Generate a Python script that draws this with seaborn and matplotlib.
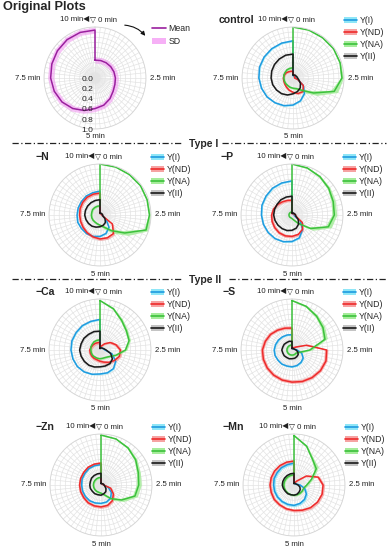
import numpy as np
import matplotlib
matplotlib.use("Agg")
import matplotlib.pyplot as plt
import seaborn as sns
from matplotlib.lines import Line2D
from matplotlib.patches import Patch, FancyArrowPatch

# time axis (minutes), 0 at top, clockwise
t_min = [0.0, 0.5, 1.0, 1.5, 2.0, 2.5, 3.0, 3.5, 4.0, 4.5, 5.0,
         5.5, 6.0, 6.5, 7.0, 7.5, 8.0, 8.5, 9.0, 9.5, 10.0]

orig_mean = [0.35, 0.36, 0.37, 0.38, 0.39, 0.40, 0.41, 0.44, 0.50, 0.56, 0.60,
             0.67, 0.74, 0.80, 0.84, 0.87, 0.89, 0.91, 0.93, 0.94, 0.94]
orig_sd = 0.06

ctrl_yi = [0.05, 0.04, 0.04, 0.04, 0.05, 0.05, 0.10, 0.25, 0.38, 0.47, 0.53,
           0.57, 0.60, 0.63, 0.65, 0.67, 0.69, 0.70, 0.71, 0.72, 0.73]
ctrl_ynd = [0.08, 0.06, 0.05, 0.04, 0.03, 0.03, 0.10, 0.25, 0.33, 0.32, 0.28,
            0.25, 0.22, 0.20, 0.19, 0.19, 0.18, 0.17, 0.15, 0.14, 0.13]
ctrl_yna = [1.00, 0.99, 0.98, 0.98, 0.97, 0.96, 0.85, 0.50, 0.30, 0.22, 0.20,
            0.19, 0.18, 0.18, 0.18, 0.18, 0.19, 0.19, 0.20, 0.20, 0.20]
ctrl_yii = [0.06, 0.06, 0.07, 0.07, 0.08, 0.09, 0.12, 0.18, 0.24, 0.28, 0.31,
            0.35, 0.38, 0.40, 0.42, 0.43, 0.44, 0.45, 0.46, 0.47, 0.47]
ctrl_yna_sd = [0.01, 0.01, 0.01, 0.01, 0.015, 0.03, 0.07, 0.08, 0.05, 0.03, 0.02,
               0.02, 0.02, 0.02, 0.02, 0.02, 0.02, 0.02, 0.02, 0.02, 0.02]
ctrl_sd = [0.015, 0.02, ctrl_yna_sd, 0.015]

n_yi = [0.03, 0.03, 0.03, 0.03, 0.03, 0.04, 0.05, 0.15, 0.30, 0.38, 0.42,
        0.44, 0.45, 0.45, 0.46, 0.45, 0.45, 0.45, 0.46, 0.46, 0.47]
n_ynd = [0.03, 0.03, 0.03, 0.03, 0.03, 0.04, 0.05, 0.30, 0.45, 0.47, 0.47,
         0.45, 0.43, 0.41, 0.40, 0.40, 0.41, 0.42, 0.43, 0.43, 0.43]
n_yna = [1.00, 0.99, 0.98, 0.98, 0.97, 0.97, 0.95, 0.60, 0.38, 0.25, 0.20,
         0.18, 0.17, 0.17, 0.17, 0.17, 0.17, 0.18, 0.18, 0.18, 0.18]
n_yii = [0.04, 0.04, 0.04, 0.04, 0.05, 0.05, 0.06, 0.12, 0.18, 0.21, 0.23,
         0.25, 0.27, 0.28, 0.29, 0.30, 0.30, 0.30, 0.30, 0.30, 0.30]
n_yna_sd = [0.01, 0.01, 0.01, 0.01, 0.015, 0.02, 0.05, 0.08, 0.06, 0.04, 0.02,
            0.02, 0.02, 0.02, 0.02, 0.02, 0.02, 0.02, 0.02, 0.02, 0.02]
n_sd = [0.015, 0.03, n_yna_sd, 0.015]

p_yi = [0.03, 0.03, 0.03, 0.03, 0.04, 0.04, 0.05, 0.20, 0.35, 0.47, 0.52,
        0.55, 0.57, 0.58, 0.59, 0.60, 0.62, 0.63, 0.65, 0.66, 0.67]
p_ynd = [0.03, 0.03, 0.03, 0.04, 0.05, 0.06, 0.08, 0.25, 0.35, 0.40, 0.42,
         0.43, 0.43, 0.42, 0.41, 0.40, 0.38, 0.35, 0.32, 0.30, 0.29]
p_yna = [1.00, 0.97, 0.93, 0.89, 0.85, 0.83, 0.75, 0.45, 0.20, 0.10, 0.07,
         0.06, 0.06, 0.06, 0.06, 0.06, 0.06, 0.06, 0.06, 0.06, 0.06]
p_yii = [0.04, 0.04, 0.05, 0.05, 0.06, 0.07, 0.08, 0.15, 0.22, 0.27, 0.30,
         0.32, 0.33, 0.34, 0.35, 0.36, 0.36, 0.36, 0.37, 0.37, 0.37]
p_yna_sd = [0.01, 0.015, 0.02, 0.03, 0.04, 0.05, 0.06, 0.06, 0.04, 0.02, 0.01,
            0.01, 0.01, 0.01, 0.01, 0.01, 0.01, 0.01, 0.01, 0.01, 0.01]
p_sd = [0.015, 0.03, p_yna_sd, 0.015]

ca_yi = [0.03, 0.04, 0.05, 0.06, 0.07, 0.10, 0.25, 0.38, 0.45, 0.47, 0.47,
         0.50, 0.53, 0.55, 0.56, 0.57, 0.58, 0.58, 0.59, 0.59, 0.60]
ca_ynd = [0.05, 0.08, 0.15, 0.25, 0.33, 0.40, 0.40, 0.35, 0.30, 0.25, 0.22,
          0.20, 0.20, 0.20, 0.20, 0.20, 0.18, 0.17, 0.16, 0.15, 0.15]
ca_yna = [0.97, 0.85, 0.72, 0.64, 0.60, 0.50, 0.33, 0.22, 0.18, 0.17, 0.17,
          0.17, 0.17, 0.18, 0.18, 0.18, 0.19, 0.19, 0.20, 0.20, 0.20]
ca_yii = [0.03, 0.04, 0.05, 0.06, 0.08, 0.12, 0.22, 0.30, 0.33, 0.33, 0.33,
          0.35, 0.37, 0.38, 0.39, 0.40, 0.39, 0.39, 0.38, 0.38, 0.37]
ca_yna_sd = [0.01, 0.02, 0.03, 0.03, 0.03, 0.03, 0.03, 0.02, 0.02, 0.02, 0.02,
             0.02, 0.02, 0.02, 0.02, 0.02, 0.02, 0.02, 0.02, 0.02, 0.02]
ca_sd = [0.015, 0.035, ca_yna_sd, 0.02]

s_yi = [0.03, 0.03, 0.03, 0.04, 0.05, 0.10, 0.20, 0.27, 0.30, 0.32, 0.33,
        0.33, 0.34, 0.34, 0.35, 0.35, 0.34, 0.33, 0.32, 0.31, 0.30]
s_ynd = [0.03, 0.04, 0.05, 0.10, 0.30, 0.68, 0.70, 0.69, 0.67, 0.65, 0.63,
         0.62, 0.61, 0.60, 0.59, 0.58, 0.55, 0.52, 0.48, 0.45, 0.43]
s_yna = [0.97, 0.90, 0.82, 0.75, 0.68, 0.35, 0.15, 0.10, 0.10, 0.10, 0.10,
         0.10, 0.10, 0.10, 0.10, 0.10, 0.10, 0.10, 0.10, 0.10, 0.10]
s_yii = [0.03, 0.03, 0.04, 0.04, 0.05, 0.08, 0.12, 0.15, 0.16, 0.17, 0.17,
         0.18, 0.18, 0.19, 0.19, 0.20, 0.19, 0.19, 0.18, 0.18, 0.17]
s_yna_sd = [0.01, 0.02, 0.03, 0.04, 0.05, 0.05, 0.03, 0.02, 0.02, 0.02, 0.02,
            0.02, 0.02, 0.02, 0.02, 0.02, 0.02, 0.02, 0.02, 0.02, 0.02]
s_sd = [0.015, 0.035, s_yna_sd, 0.015]

zn_yi = [0.03, 0.03, 0.03, 0.04, 0.04, 0.05, 0.15, 0.25, 0.32, 0.35, 0.36,
         0.37, 0.38, 0.38, 0.38, 0.38, 0.39, 0.39, 0.40, 0.40, 0.40]
zn_ynd = [0.03, 0.03, 0.03, 0.04, 0.04, 0.05, 0.20, 0.30, 0.38, 0.42, 0.43,
          0.43, 0.43, 0.42, 0.42, 0.42, 0.42, 0.42, 0.43, 0.43, 0.43]
zn_yna = [0.98, 0.95, 0.90, 0.84, 0.77, 0.74, 0.70, 0.50, 0.33, 0.20, 0.16,
          0.15, 0.15, 0.15, 0.15, 0.15, 0.15, 0.15, 0.15, 0.15, 0.15]
zn_yii = [0.03, 0.03, 0.03, 0.04, 0.05, 0.06, 0.08, 0.12, 0.16, 0.18, 0.20,
          0.20, 0.21, 0.21, 0.22, 0.22, 0.22, 0.23, 0.23, 0.23, 0.23]
zn_yna_sd = [0.01, 0.01, 0.02, 0.03, 0.04, 0.05, 0.05, 0.05, 0.04, 0.03, 0.02,
             0.02, 0.02, 0.02, 0.02, 0.02, 0.02, 0.02, 0.02, 0.02, 0.02]
zn_sd = [0.015, 0.03, zn_yna_sd, 0.015]

mn_yi = [0.03, 0.03, 0.04, 0.04, 0.05, 0.12, 0.22, 0.30, 0.35, 0.38, 0.40,
         0.40, 0.40, 0.40, 0.40, 0.40, 0.41, 0.41, 0.42, 0.42, 0.43]
mn_ynd = [0.03, 0.05, 0.10, 0.30, 0.50, 0.57, 0.58, 0.57, 0.55, 0.52, 0.50,
          0.49, 0.48, 0.48, 0.47, 0.47, 0.47, 0.47, 0.47, 0.47, 0.47]
mn_yna = [0.97, 0.80, 0.62, 0.54, 0.36, 0.25, 0.20, 0.20, 0.20, 0.20, 0.20,
          0.20, 0.20, 0.20, 0.20, 0.20, 0.20, 0.20, 0.20, 0.20, 0.20]
mn_yii = [0.03, 0.03, 0.04, 0.04, 0.05, 0.08, 0.12, 0.15, 0.17, 0.19, 0.20,
          0.20, 0.21, 0.21, 0.22, 0.23, 0.23, 0.23, 0.23, 0.23, 0.23]
mn_yna_sd = [0.01, 0.02, 0.03, 0.05, 0.04, 0.03, 0.02, 0.02, 0.02, 0.02, 0.02,
             0.02, 0.02, 0.02, 0.02, 0.02, 0.02, 0.02, 0.02, 0.02, 0.02]
mn_sd = [0.03, 0.03, mn_yna_sd, 0.015]

series_names = ["Y(I)", "Y(ND)", "Y(NA)", "Y(II)"]
line_colors = ["#1f9be0", "#ee2b2b", "#3cc13c", "#1a1a1a"]
band_colors = ["#8fe6f7", "#f6a3a3", "#a6ec9b", "#c4c4c4"]

# title, title x, center x, center y (pixels), data
panels = [
    ("control", 219, 293, 78, [ctrl_yi, ctrl_ynd, ctrl_yna, ctrl_yii], ctrl_sd),
    ("\u2212N", 36, 100, 215, [n_yi, n_ynd, n_yna, n_yii], n_sd),
    ("\u2212P", 221, 292, 215, [p_yi, p_ynd, p_yna, p_yii], p_sd),
    ("\u2212Ca", 36, 100, 350, [ca_yi, ca_ynd, ca_yna, ca_yii], ca_sd),
    ("\u2212S", 223, 292, 350, [s_yi, s_ynd, s_yna, s_yii], s_sd),
    ("\u2212Zn", 36, 101, 485, [zn_yi, zn_ynd, zn_yna, zn_yii], zn_sd),
    ("\u2212Mn", 223, 294, 485, [mn_yi, mn_ynd, mn_yna, mn_yii], mn_sd),
]

W, H = 388, 550
R = 51
sns.set_theme(style="white")
plt.rcParams["font.family"] = ["Liberation Sans", "DejaVu Sans"]

fig = plt.figure(figsize=(W / 100, H / 100), dpi=100)
theta = np.deg2rad(np.array(t_min) * 36.0)
theta_c = np.append(theta, theta[-1])


def fx(px):
    return px / W


def fy(py):
    return 1 - py / H


def make_axes(cx, cy):
    ax = fig.add_axes([fx(cx - R), fy(cy + R), 2 * R / W, 2 * R / H],
                      projection="polar")
    ax.set_theta_zero_location("N")
    ax.set_theta_direction(-1)
    ax.set_xticks(np.linspace(0, 2 * np.pi, 60, endpoint=False))
    ax.set_yticks(np.arange(0.1, 1.01, 0.1))
    ax.set_xticklabels([])
    ax.set_yticklabels([])
    ax.grid(True, color="#e3e3e3", lw=0.5)
    ax.spines["polar"].set_color("#d5d5d5")
    ax.spines["polar"].set_linewidth(0.6)
    ax.tick_params(length=0, pad=0)
    ax.set_ylim(0, 1)

    kw = dict(fontsize=5.6, color="#222222")
    fig.text(fx(cx - 6), fy(cy - 58), "10 min\u25C0", ha="right", va="center", **kw)
    fig.text(fx(cx - 5), fy(cy - 58), "\u25BD 0 min", ha="left", va="center", **kw)
    fig.text(fx(cx + 55), fy(cy), "2.5 min", ha="left", va="center", **kw)
    fig.text(fx(cx - 55), fy(cy), "7.5 min", ha="right", va="center", **kw)
    fig.text(fx(cx), fy(cy + 59), "5 min", ha="center", va="center", **kw)
    return ax


def closed(vals):
    vals = list(np.broadcast_to(vals, (len(t_min),)))
    return np.array(vals + [vals[0]])


# ---- original plot ----
ax0 = make_axes(95, 78)
r0 = closed(orig_mean)
ax0.fill_between(theta_c, r0 - orig_sd, r0 + orig_sd, color="#f29cf2",
                 alpha=0.6, lw=0)
sns.lineplot(x=theta_c, y=r0, ax=ax0, color="#9a1f9e", lw=1.1,
             sort=False, estimator=None)
ax0.set_ylim(0, 1)
for rv in [0.0, 0.2, 0.4, 0.6, 0.8, 1.0]:
    ax0.annotate(f"{rv:.1f}", xy=(np.pi, rv), xytext=(-1, -1),
                 textcoords="offset points", ha="right", va="center",
                 fontsize=6, color="#222222")
fig.text(fx(3), fy(7), "Original Plots", fontsize=9.2, fontweight="bold",
         ha="left", va="center")
ax0.legend([Line2D([], [], color="#9a1f9e", lw=1.2),
            Patch(facecolor="#f6b0f6", edgecolor="none")],
           ["Mean", "SD"], loc="upper left",
           bbox_to_anchor=(fx(152), fy(24)), bbox_transform=fig.transFigure,
           frameon=False, fontsize=6.3, handlelength=1.6, handletextpad=0.3,
           labelspacing=0.45, borderpad=0, borderaxespad=0)
fig.add_artist(FancyArrowPatch(
    (122, H - 25), (147, H - 38), transform=None,
    connectionstyle="arc3,rad=-0.25", arrowstyle="-|>",
    mutation_scale=6, lw=0.8, color="#111111"))

# ---- treatment panels ----
for title, tx, cx, cy, series, sds in panels:
    ax = make_axes(cx, cy)
    for vals, sd, bc in zip(series, sds, band_colors):
        r = closed(vals)
        s = closed(sd)
        ax.fill_between(theta_c, r - s, r + s, color=bc, alpha=0.85, lw=0)
    for vals, lc in zip(series, line_colors):
        sns.lineplot(x=theta_c, y=closed(vals), ax=ax, color=lc, lw=1.1,
                     sort=False, estimator=None)
    ax.set_ylim(0, 1)
    fig.text(fx(tx), fy(cy - 58), title, fontsize=7.6, fontweight="bold",
             ha="left", va="center")
    handles = [(Patch(facecolor=bc, edgecolor="none"), Line2D([], [], color=lc, lw=1.2))
               for bc, lc in zip(band_colors, line_colors)]
    ax.legend(handles, series_names, loc="upper left",
              bbox_to_anchor=(fx(cx + 51), fy(cy - 62)),
              bbox_transform=fig.transFigure, frameon=False, fontsize=6.3,
              handlelength=1.5, handletextpad=0.3, labelspacing=0.35,
              borderpad=0, borderaxespad=0)

# ---- group separators ----
for y, label, x2 in [(143, "Type I", 222), (279, "Type II", 229)]:
    for xa, xb in [(12, 183), (x2, 386)]:
        fig.add_artist(Line2D([fx(xa), fx(xb)], [fy(y), fy(y)],
                              transform=fig.transFigure, color="#222222",
                              lw=0.9, dashes=(5, 2, 1, 2)))
    fig.text(fx(189), fy(y + 1), label, fontsize=7.5, fontweight="bold",
             ha="left", va="center")

fig.savefig("out.png", dpi=100, facecolor="white")
